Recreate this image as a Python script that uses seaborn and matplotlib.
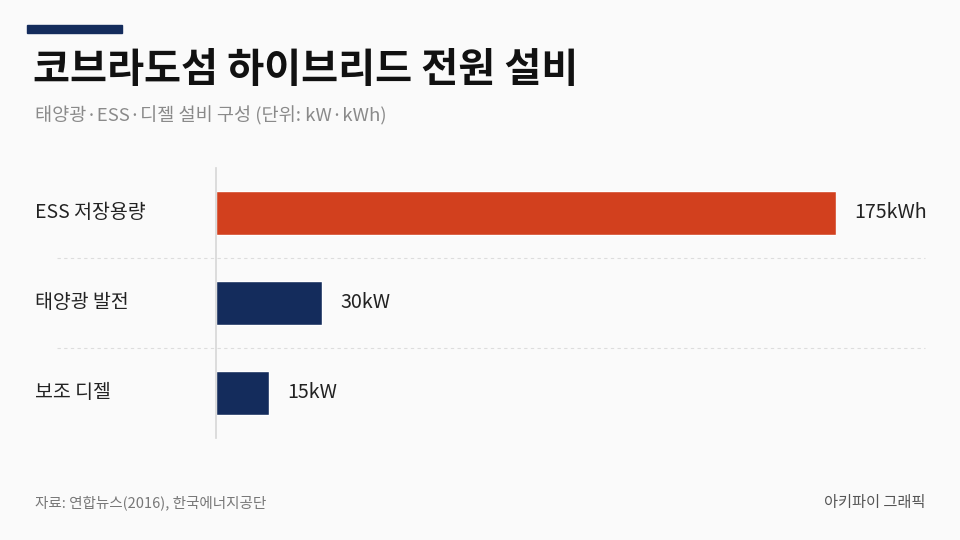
import matplotlib
matplotlib.use('Agg')
import matplotlib.pyplot as plt
import seaborn as sns
import pandas as pd

# data
categories = ['ESS 저장용량', '태양광 발전', '보조 디젤']
values = [175, 30, 15]
value_labels = ['175kWh', '30kW', '15kW']
bar_colors = ['#d2401e', '#142c5c', '#142c5c']

sns.set_theme(style='white')
plt.rcParams['font.family'] = ['Noto Sans CJK KR', 'DejaVu Sans']

bg = '#fafafa'
df = pd.DataFrame({'category': categories, 'value': values})

fig = plt.figure(figsize=(9.6, 5.4), dpi=100, facecolor=bg)
ax = fig.add_axes([216 / 960, 1 - 438 / 540, (836 - 216) / 960, 270 / 540])
ax.set_facecolor(bg)

sns.barplot(data=df, x='value', y='category', hue='category', palette=bar_colors,
            legend=False, width=0.48, orient='h', ax=ax, saturation=1)

ax.set_xlim(0, 175)
ax.set_ylim(2.5, -0.5)
for s in ['top', 'right', 'bottom']:
    ax.spines[s].set_visible(False)
ax.spines['left'].set_color('#d6d6d6')
ax.spines['left'].set_linewidth(1.2)
ax.set_xticks([])
ax.set_yticks([])
ax.set_xlabel('')
ax.set_ylabel('')

# dashed separators between rows
for y in [0.5, 1.5]:
    ax.plot([-45, 200], [y, y], ls=(0, (3, 3)), color='#dddddd', lw=0.8,
            clip_on=False, zorder=0)

# category labels and value labels
px = 175 / 620
for i, (cat, v, lab) in enumerate(zip(categories, values, value_labels)):
    ax.text(-181 * px, i, cat, ha='left', va='center', fontsize=14,
            color='#222222')
    ax.text(v + 18 * px, i, lab, ha='left', va='center', fontsize=14.2,
            color='#222222')

# header
fig.patches.append(plt.Rectangle((27 / 960, 1 - 33 / 540), 95 / 960, 8 / 540,
                                 transform=fig.transFigure, color='#142c5c'))
fig.text(33 / 960, 1 - 71 / 540, '코브라도섬 하이브리드 전원 설비', fontsize=29,
         fontweight='bold', color='#111111', va='center', ha='left')
fig.text(35 / 960, 1 - 116 / 540, '태양광·ESS·디젤 설비 구성 (단위: kW·kWh)',
         fontsize=13.4, color='#8a8a8a', va='center', ha='left')

# footer
fig.text(35 / 960, 1 - 503 / 540, '자료: 연합뉴스(2016), 한국에너지공단',
         fontsize=10.5, color='#777777', va='center', ha='left')
fig.text(925 / 960, 1 - 503 / 540, '아키파이 그래픽',
         fontsize=11, color='#555555', va='center', ha='right')

fig.savefig('out.png', dpi=100, facecolor=bg)
